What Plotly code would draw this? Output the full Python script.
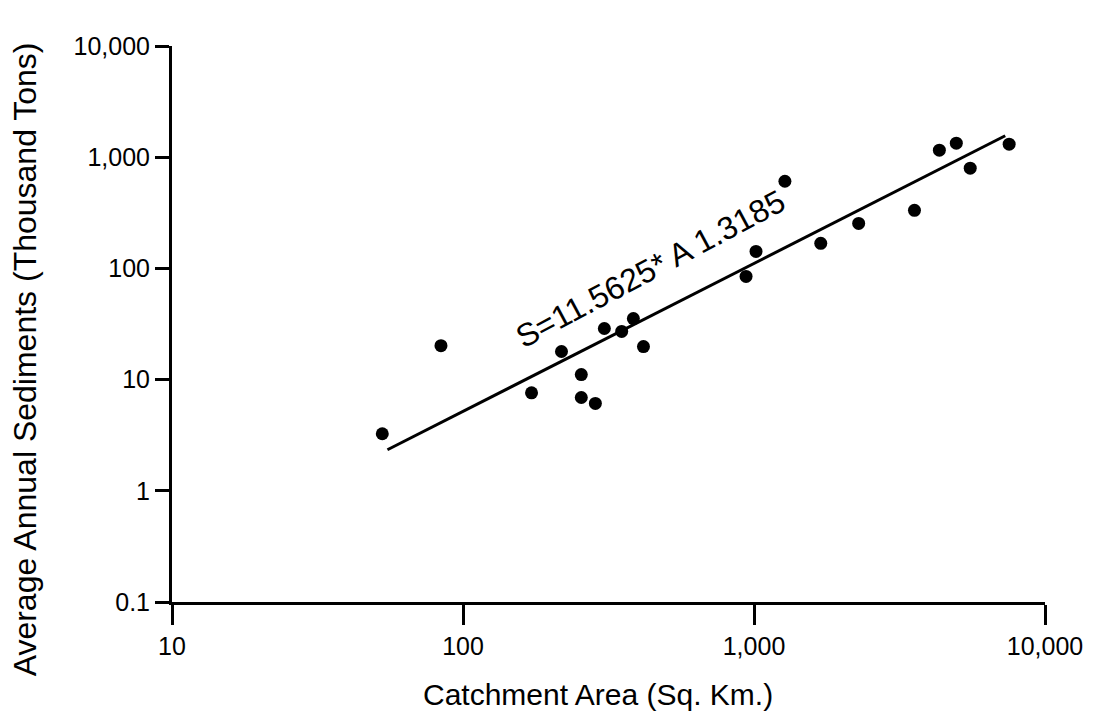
import math
import plotly.graph_objects as go

catchment_area = [52.8, 84, 172, 218, 255, 255, 285, 306, 351, 385, 417,
                  939, 1016, 1277, 1696, 2289, 3560, 4335, 4957, 5534, 7530]
sediments = [3.26, 20.2, 7.6, 17.9, 11.1, 6.9, 6.1, 28.8, 27.1, 35.4, 19.8,
             84.7, 142, 608, 168, 254, 333, 1156, 1337, 796, 1309]

# Fitted line end points
fit_area = [55, 7300]
fit_sed = [2.34, 1560]

x_tickvals = [10, 100, 1000, 10000]
x_ticktext = ["10", "100", "1,000", "10,000"]
y_tickvals = [0.1, 1, 10, 100, 1000, 10000]
y_ticktext = ["0.1", "1", "10", "100", "1,000", "10,000"]

equation_text = "S=11.5625* A 1.3185"
x_title = "Catchment Area (Sq. Km.)"
y_title = "Average Annual Sediments (Thousand Tons)"

FONT = "Liberation Sans, Arial, sans-serif"

fig = go.Figure()
fig.add_trace(go.Scatter(x=fit_area, y=fit_sed, mode="lines",
                         line=dict(color="black", width=3), showlegend=False,
                         hoverinfo="skip"))
fig.add_trace(go.Scatter(x=catchment_area, y=sediments, mode="markers",
                         marker=dict(color="black", size=13,
                                     line=dict(color="black", width=0)),
                         showlegend=False))

fig.add_annotation(text=equation_text, x=math.log10(440), y=math.log10(98),
                   xref="x", yref="y", showarrow=False, textangle=-28,
                   font=dict(family=FONT, size=32, color="black"))
fig.add_annotation(text=x_title, x=0.488, y=-0.167, xref="paper", yref="paper",
                   showarrow=False, xanchor="center", yanchor="middle",
                   font=dict(family=FONT, size=30, color="black"))
fig.add_annotation(text=y_title, x=-0.168, y=0.437, xref="paper", yref="paper",
                   showarrow=False, xanchor="center", yanchor="middle",
                   textangle=-90,
                   font=dict(family=FONT, size=32, color="black"))

fig.update_layout(
    width=1087, height=711, autosize=False,
    margin=dict(l=164, r=48, t=38, b=117),
    paper_bgcolor="white", plot_bgcolor="white",
    font=dict(family=FONT, color="black"),
    xaxis=dict(type="log", range=[1, 4], tickvals=x_tickvals, ticktext=x_ticktext,
               showgrid=False, zeroline=False, showline=True, linecolor="black",
               linewidth=3, ticks="outside", ticklen=20, tickwidth=3,
               tickcolor="black", tickfont=dict(family=FONT, size=25)),
    yaxis=dict(type="log", range=[-1, 4], tickvals=y_tickvals, ticktext=y_ticktext,
               showgrid=False, zeroline=False, showline=True, linecolor="black",
               linewidth=3, ticks="outside", ticklen=14, tickwidth=3,
               tickcolor="black", tickfont=dict(family=FONT, size=25)),
)

fig.write_html("out.html")
